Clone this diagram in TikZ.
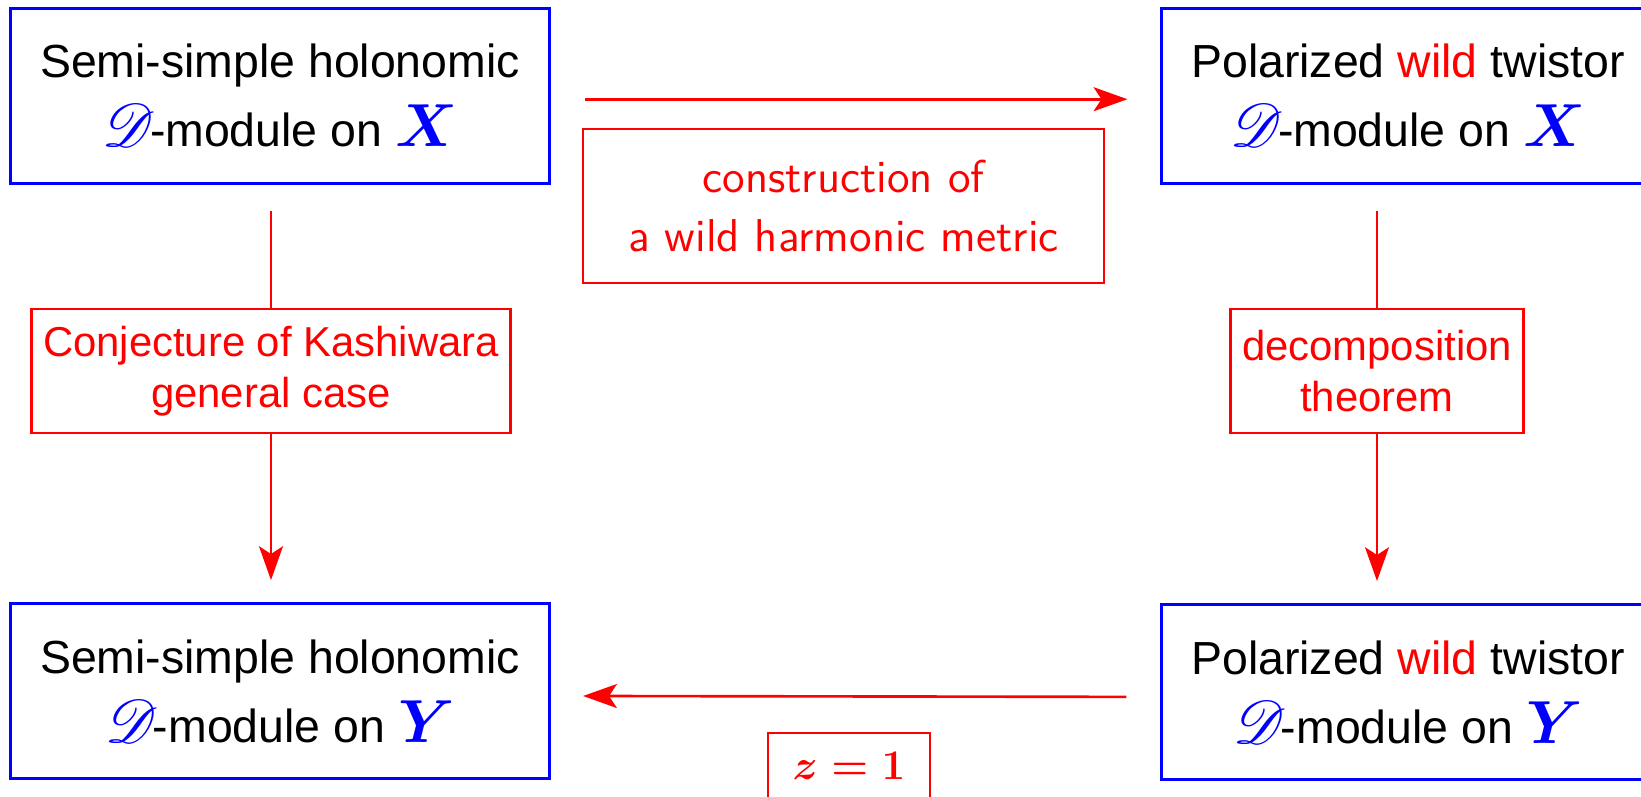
\documentclass[tikz,border=0pt]{standalone}
\usepackage[no-math]{fontspec}
\setmainfont{Liberation Sans}
\usepackage{amsmath}
\usepackage{amssymb}
\usepackage{mathrsfs}
\usepackage{tikz}
\usetikzlibrary{arrows.meta}
\tikzset{
    objbox/.style={draw=blue, line width=0.8pt, align=center,
        minimum width=5.39cm, minimum height=1.75cm,
        font=\fontsize{13.2}{19.6}\selectfont},
    arrowlabel/.style={draw=red, text=red, line width=0.7pt, align=center,
        fill=white, font=\fontsize{11.9}{14.5}\selectfont},
    redline/.style={draw=red, line width=0.75pt},
    redarrow/.style={redline,
        -{Stealth[length=9.6pt,width=6.8pt,inset=2.2pt]}}
}
\newcommand{\bluesym}[1]{{\color{blue}\fontsize{17}{17}\selectfont$#1$}}
\newcommand{\scrD}{{\color{blue}\fontsize{19}{17}\selectfont$\mathscr{D}$}\kern-1.5pt}

\begin{document}
\begin{tikzpicture}[x=0.01cm, y=-0.01cm]
    \clip (0,0) rectangle (1641,796);
    % the four objects
    \node[objbox] (ssX) at (280,95.7)
        {Semi-simple holonomic\\\scrD-module on \bluesym{\boldsymbol{X}}};
    \node[objbox, minimum width=4.92cm] (twX) at (1408,95.7)
        {Polarized {\color{red}wild} twistor\\\scrD-module on \bluesym{\boldsymbol{X}}};
    \node[objbox] (ssY) at (280,691)
        {Semi-simple holonomic\\\scrD-module on \bluesym{\boldsymbol{Y}}};
    \node[objbox, minimum width=4.92cm] (twY) at (1408,692)
        {Polarized {\color{red}wild} twistor\\\scrD-module on \bluesym{\boldsymbol{Y}}};

    % labels of the arrows
    \node[arrowlabel, line width=0.5pt, minimum width=5.21cm, minimum height=1.54cm,
        font=\sffamily\fontsize{13.1}{17}\selectfont] (constr) at (843.5,206)
        {construction of\\a wild harmonic metric};
    \node[arrowlabel, minimum width=4.78cm, minimum height=1.24cm] (conj) at (271,371)
        {Conjecture of Kashiwara\\general case};
    \node[arrowlabel, minimum width=2.91cm, minimum height=1.24cm] (decomp) at (1377,371)
        {decomposition\\theorem};
    \node[arrowlabel, line width=0.5pt, minimum width=1.62cm, minimum height=0.66cm,
        font=\fontsize{13.2}{15}\selectfont] (zone) at (849,766) {$\boldsymbol{z=1}$};

    % arrows
    \draw[redarrow, shorten <=0.34cm, shorten >=0.33cm]
        ([yshift=-1pt]ssX.east) -- ([yshift=-1pt]twX.west);
    \draw[redline, shorten <=0.26cm] (ssX.south -| conj) -- (conj.north);
    \draw[redarrow, shorten >=0.22cm] (conj.south) -- (ssY.north -| conj);
    \draw[redline, shorten <=0.26cm] (twX.south -| decomp) -- (decomp.north);
    \draw[redarrow, shorten >=0.22cm] (decomp.south) -- (twY.north -| decomp);
    \draw[redarrow, shorten <=0.34cm, shorten >=0.32cm]
        ([yshift=-1.4pt]twY.west) -- ([yshift=-1.4pt]ssY.east);
\end{tikzpicture}
\end{document}
